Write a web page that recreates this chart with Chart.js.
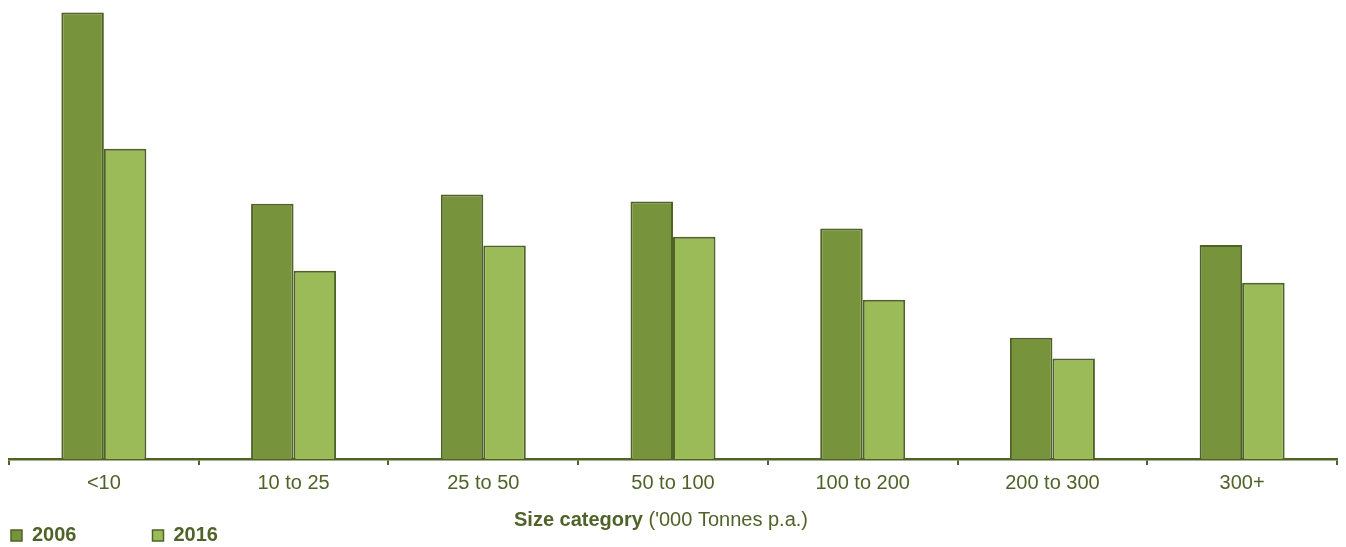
<!DOCTYPE html>
<html>
<head>
<meta charset="utf-8">
<title>Size category</title>
<script src="https://cdn.jsdelivr.net/npm/chart.js@4.4.1/dist/chart.umd.min.js"></script>
<style>
  html, body { margin: 0; padding: 0; background: #fff; }
  #wrap { width: 1346px; height: 547px; }
</style>
</head>
<body>
<div id="wrap"><canvas id="sizeChart"></canvas></div>
<script>
// ── Data ───────────────────────────────────────────────────
const categories = ['<10', '10 to 25', '25 to 50', '50 to 100', '100 to 200', '200 to 300', '300+'];
const values2006 = [97.3, 55.6, 57.6, 56.1, 50.2, 26.4, 46.6];
const values2016 = [67.6, 41.0, 46.5, 48.4, 34.7, 21.9, 38.4];
const seriesLabels = ['2006', '2016'];

// ── Colours ────────────────────────────────────────────────
const DARK = '#4f6228';
const GREEN_DARK = '#77933c';
const GREEN_LIGHT = '#9bbb59';
const FONT = "'Liberation Sans', Arial, sans-serif";

Chart.defaults.font.family = FONT;
Chart.defaults.color = DARK;

// axis title has a bold part and a normal part, so draw it ourselves
const axisTitle = {
  id: 'axisTitle',
  afterDraw(chart) {
    const { ctx, chartArea, scales } = chart;
    const boldPart = 'Size category';
    const normalPart = " ('000 Tonnes p.a.)";
    ctx.save();
    ctx.fillStyle = DARK;
    ctx.textBaseline = 'middle';
    ctx.font = `bold 20px ${FONT}`;
    const w1 = ctx.measureText(boldPart).width;
    ctx.font = `20px ${FONT}`;
    const w2 = ctx.measureText(normalPart).width;
    const x0 = (chartArea.left + chartArea.right) / 2 - (w1 + w2) / 2 - 12;
    const y = scales.x.bottom - 3.5;
    ctx.font = `bold 20px ${FONT}`;
    ctx.fillText(boldPart, x0, y);
    ctx.font = `20px ${FONT}`;
    ctx.fillText(normalPart, x0 + w1, y);
    ctx.restore();
  }
};

new Chart(document.getElementById('sizeChart'), {
  type: 'bar',
  data: {
    labels: categories,
    datasets: [
      {
        label: seriesLabels[0],
        data: values2006,
        backgroundColor: GREEN_DARK,
        borderColor: DARK,
        borderWidth: 2,
        barPercentage: 1,
        categoryPercentage: 0.448,
      },
      {
        label: seriesLabels[1],
        data: values2016,
        backgroundColor: GREEN_LIGHT,
        borderColor: DARK,
        borderWidth: 2,
        barPercentage: 1,
        categoryPercentage: 0.448,
      }
    ]
  },
  options: {
    responsive: true,
    maintainAspectRatio: false,
    animation: false,
    layout: { padding: { left: 9, right: 9, top: 0, bottom: -8.5 } },
    plugins: {
      tooltip: { enabled: false },
      legend: {
        position: 'bottom',
        align: 'start',
        labels: {
          boxWidth: 11,
          boxHeight: 11,
          padding: 2,
          color: DARK,
          font: { size: 20, weight: 'bold' },
          generateLabels: chart => {
            const items = Chart.defaults.plugins.legend.labels.generateLabels(chart);
            items.forEach(it => { it.text = it.text + '\u2003\u2003\u2003\u2002\u2009'; it.lineWidth = 1.5; });
            return items;
          }
        }
      }
    },
    scales: {
      x: {
        grid: {
          offset: true,
          drawOnChartArea: false,
          drawTicks: true,
          tickLength: 6,
          color: DARK,
          lineWidth: 2
        },
        border: { color: DARK, width: 2.5 },
        ticks: { font: { size: 20 }, color: DARK, padding: 6 },
        title: {
          display: true,
          text: ' ',
          font: { size: 20 },
          padding: { top: 0, bottom: -1.5 }
        }
      },
      y: {
        display: false,
        min: 0,
        max: 100
      }
    }
  },
  plugins: [axisTitle]
});
</script>
</body>
</html>
